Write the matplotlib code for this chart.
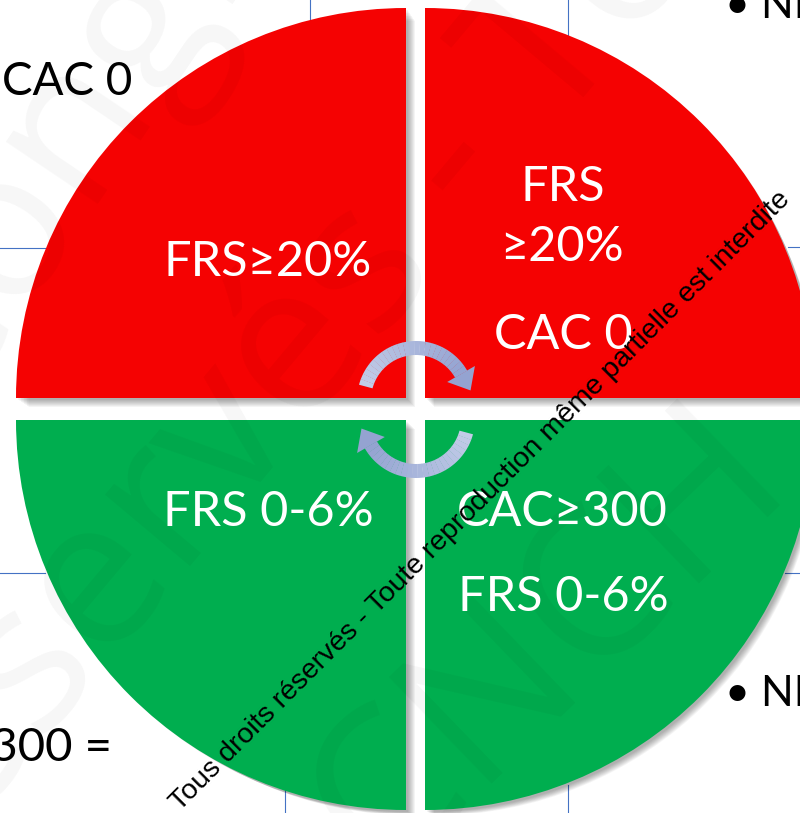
import matplotlib

matplotlib.use("Agg")
import matplotlib.pyplot as plt
import numpy as np
from matplotlib.patches import Wedge, Polygon

plt.rcParams["font.family"] = ["Lato", "DejaVu Sans"]

W, H = 800, 813

# quadrant data: corner (px), start/end angle (data coords, y inverted), colour
QUAD_NAMES = ["top_left", "top_right", "bottom_left", "bottom_right"]
QUAD_CORNERS = [(406, 398), (425, 398), (406, 420), (425, 420)]
QUAD_THETA = [(180, 270), (270, 360), (90, 180), (0, 90)]
QUAD_COLORS = ["#f50202", "#f50202", "#00ae4f", "#00ae4f"]
RADIUS = 390

# white labels inside the quadrants
LABELS = ["FRS≥20%", "FRS", "≥20%", "CAC 0", "FRS 0-6%", "CAC≥300", "FRS 0-6%"]
LABEL_XY = [(268, 262), (563, 187), (562, 247), (563, 335),
            (268, 512), (562, 512), (563, 597)]

# cut-off slide text around the chart
SIDE_TEXT = ["CAC 0", "• NI", "• NI", "≥300 ="]
SIDE_XY = [(2, 82), (725, 6), (725, 694), (112, 748)]
SIDE_HA = ["left", "left", "left", "right"]
SIDE_SIZE = [33, 31, 31, 34]

# faint slide table lines: (x0, y0, x1, y1)
GRID = [(310, 0, 310, 22), (0, 248, 45, 248), (568, 0, 568, 40), (788, 247, 800, 247),
        (0, 573, 45, 573), (285, 790, 285, 813), (568, 785, 568, 813), (785, 573, 800, 573)]

WATERMARK = "Tous droits réservés - Toute reproduction même partielle est interdite"

fig = plt.figure(figsize=(W / 100, H / 100), dpi=100)
ax = fig.add_axes([0, 0, 1, 1])
ax.set_xlim(0, W)
ax.set_ylim(H, 0)
ax.set_aspect("auto")
ax.axis("off")

for x0, y0, x1, y1 in GRID:
    ax.plot([x0, x1], [y0, y1], color="#4472c4", lw=0.8, zorder=0)

# big pale background watermark letters
for txt, (x, y), rot in [("Congrès", (-60, 420), 56), ("réservés - Tous", (-90, 900), 50),
                         ("CNCH", (380, 880), 44)]:
    ax.text(x, y, txt, fontsize=150, color="black", alpha=0.035, rotation=rot,
            rotation_mode="anchor", ha="left", va="baseline", zorder=5,
            family=["Open Sans", "DejaVu Sans"])

# soft drop shadow
for k in range(8):
    off = 2 + k
    for (cx, cy), (t0, t1) in zip(QUAD_CORNERS, QUAD_THETA):
        ax.add_patch(Wedge((cx + off, cy + off), RADIUS - k * 0.5, t0, t1,
                           facecolor="black", edgecolor="none", alpha=0.045, zorder=1))

for (cx, cy), (t0, t1), col in zip(QUAD_CORNERS, QUAD_THETA, QUAD_COLORS):
    ax.add_patch(Wedge((cx, cy), RADIUS, t0, t1, facecolor=col, edgecolor="none", zorder=2))


def curved_arrow(center, r, t0, t1, width=14, head_w=32, head_l=19):
    cx, cy = center
    n = 24
    angles = np.linspace(t0, t1, n + 1)
    cols = np.linspace([0.76, 0.80, 0.91], [0.58, 0.64, 0.82], n)
    for a0, a1, c in zip(angles[:-1], angles[1:], cols):
        ax.add_patch(Wedge((cx, cy), r + width / 2, a0, a1 + 0.3, width=width,
                           facecolor=c, edgecolor="none", zorder=6))
    th = np.radians(t1)
    bx, by = cx + r * np.cos(th), cy + r * np.sin(th)
    rad = np.array([np.cos(th), np.sin(th)])
    tan = np.array([-np.sin(th), np.cos(th)])
    pts = [(bx, by) + rad * head_w / 2, (bx, by) - rad * head_w / 2,
           (bx, by) + tan * head_l]
    ax.add_patch(Polygon(pts, closed=True, facecolor=cols[-1], edgecolor="none", zorder=6))


curved_arrow((416, 400), 52, 195, 330)
curved_arrow((416, 419), 52, 15, 150)

for txt, (x, y) in zip(LABELS, LABEL_XY):
    ax.text(x, y, txt, color="white", fontsize=35, ha="center", va="center", zorder=7)

for txt, (x, y), ha, fs in zip(SIDE_TEXT, SIDE_XY, SIDE_HA, SIDE_SIZE):
    ax.text(x, y, txt, color="black", fontsize=fs, ha=ha, va="center", zorder=7)

ax.text(180, 812, WATERMARK, color="black", fontsize=20.5, rotation=45,
        rotation_mode="anchor", ha="left", va="baseline", zorder=8,
        family=["Liberation Sans", "DejaVu Sans"])

fig.savefig("out.png", dpi=100)
